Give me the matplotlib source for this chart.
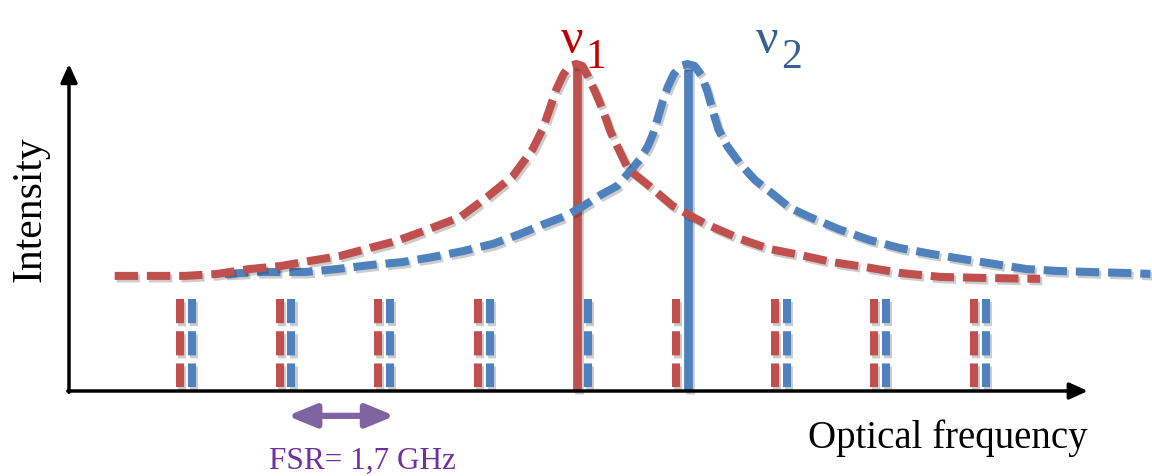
import matplotlib
matplotlib.use("Agg")
import matplotlib.pyplot as plt
import matplotlib.patheffects as pe

# ---------------- data (x in FSR units, y normalised intensity) ----------------
red_x = [0.46, 0.82, 1.17, 1.49, 1.82, 2.13, 2.43, 2.73, 3.06, 3.30, 3.57, 3.94,
         4.21, 4.47, 4.67, 4.77, 4.84, 4.91, 4.98, 5.04, 5.11, 5.17, 5.23, 5.30,
         5.38, 5.45, 5.52, 5.63, 5.82, 6.08, 6.41, 6.76, 7.06, 7.36, 7.69, 8.02,
         8.37, 8.77, 9.17, 9.78]
red_y = [0.352, 0.352, 0.352, 0.358, 0.373, 0.382, 0.398, 0.413, 0.440, 0.459,
         0.489, 0.532, 0.593, 0.657, 0.740, 0.801, 0.862, 0.924, 0.969, 0.994,
         1.000, 0.994, 0.960, 0.914, 0.856, 0.795, 0.749, 0.679, 0.633, 0.566,
         0.511, 0.465, 0.434, 0.416, 0.394, 0.379, 0.361, 0.349, 0.346, 0.343]

blue_x = [1.57, 1.95, 2.38, 2.70, 3.03, 3.35, 3.67, 3.97, 4.27, 4.54, 4.79, 5.00,
          5.18, 5.35, 5.52, 5.67, 5.76, 5.83, 5.88, 5.93, 5.98, 6.03, 6.09, 6.16,
          6.23, 6.30, 6.37, 6.43, 6.48, 6.54, 6.63, 6.76, 6.91, 7.09, 7.26, 7.46,
          7.75, 8.06, 8.37, 8.69, 8.99, 9.33, 9.64, 9.96, 10.28, 10.63, 10.89]
blue_y = [0.358, 0.364, 0.364, 0.373, 0.385, 0.394, 0.410, 0.428, 0.450, 0.480,
          0.511, 0.535, 0.566, 0.599, 0.627, 0.679, 0.713, 0.749, 0.785, 0.835,
          0.887, 0.930, 0.969, 0.994, 1.000, 0.994, 0.965, 0.915, 0.860, 0.800,
          0.748, 0.694, 0.645, 0.602, 0.560, 0.532, 0.495, 0.462, 0.437, 0.419,
          0.404, 0.388, 0.373, 0.367, 0.364, 0.361, 0.358]

red_modes = [1.12, 2.12, 3.11, 4.12, 5.12, 6.11, 7.11, 8.11, 9.11]
blue_modes = [1.24, 2.24, 3.23, 4.24, 5.23, 6.23, 7.23, 8.23, 9.23]
mode_top, mode_bottom = 0.281, 0.012
red_lasing = 5.12
blue_lasing = 6.23
fsr_arrow = (2.20, 3.28)
fsr_label = "FSR= 1,7 GHz"
x_label = "Optical frequency"
y_label = "Intensity"

# ---------------- style ----------------
RED = "#C0504D"
BLUE = "#4F81BD"
PURPLE = "#8064A2"
FONT = "Liberation Serif"
shadow = [pe.SimpleLineShadow(offset=(1.5, -1.8), shadow_color="black", alpha=0.2),
          pe.Normal()]

fig = plt.figure(figsize=(11.52, 4.77), dpi=100)
ax = fig.add_axes([0, 0, 1, 1])
ax.set_xlim(-69 / 99.3, (1152 - 69) / 99.3)
ax.set_ylim(-85 / 327, 392 / 327)
ax.axis("off")

lw = 5.8
# mode comb
for xr, xb in zip(red_modes, blue_modes):
    if xr != red_lasing:
        ax.plot([xr, xr], [mode_top, mode_bottom], color=RED, lw=lw,
                dashes=(3.0, 1.0), solid_capstyle="butt", dash_capstyle="butt",
                path_effects=shadow, zorder=3)
    if xb != blue_lasing:
        ax.plot([xb, xb], [mode_top, mode_bottom], color=BLUE, lw=lw,
                dashes=(3.0, 1.0), solid_capstyle="butt", dash_capstyle="butt",
                path_effects=shadow, zorder=3)

# lasing lines
ax.plot([red_lasing, red_lasing], [0.0, 0.99], color=RED, lw=6.3,
        solid_capstyle="butt", path_effects=shadow, zorder=4)
ax.plot([blue_lasing, blue_lasing], [0.0, 0.985], color=BLUE, lw=6.3,
        solid_capstyle="butt", path_effects=shadow, zorder=4)

# resonance profiles
ax.plot(blue_x, blue_y, color=BLUE, lw=lw, dashes=(2.9, 1.1),
        dash_capstyle="butt", solid_joinstyle="round", path_effects=shadow, zorder=5)
ax.plot(red_x, red_y, color=RED, lw=lw, dashes=(2.9, 1.1),
        dash_capstyle="butt", solid_joinstyle="round", path_effects=shadow, zorder=5)

# axes arrows
arrow_kw = dict(arrowstyle="-|>,head_length=1.1,head_width=0.5", color="black",
                lw=2.5, mutation_scale=10, shrinkA=0, shrinkB=0)
ax.annotate("", xy=(0, 1.0), xytext=(0, -0.004), arrowprops=arrow_kw, zorder=6)
ax.annotate("", xy=(10.26, 0), xytext=(-0.012, 0), arrowprops=arrow_kw, zorder=6)

# FSR arrow
ax.annotate("", xy=(fsr_arrow[1], -0.076), xytext=(fsr_arrow[0], -0.076),
            arrowprops=dict(arrowstyle="<|-|>,head_length=1.7,head_width=0.7",
                            color=PURPLE, lw=4.5, mutation_scale=10,
                            shrinkA=0, shrinkB=0), zorder=6)

# texts
ax.text(2.956, -0.234, fsr_label, color="#7030A0", fontsize=22.5, family=FONT,
        ha="center", va="baseline")
ax.text(8.852, -0.171, x_label, color="black", fontsize=28, family=FONT,
        ha="center", va="baseline")
ax.text(-0.393, 0.56, y_label, color="black", fontsize=30, family=FONT,
        ha="center", va="center", rotation=90)

ax.text(4.95, 1.037, "ν", color="#C00000", fontsize=36, family=FONT,
        ha="left", va="baseline")
ax.text(5.20, 0.991, "1", color="#C00000", fontsize=30, family=FONT,
        ha="left", va="baseline")
ax.text(6.92, 1.037, "ν", color="#376092", fontsize=36, family=FONT,
        ha="left", va="baseline")
ax.text(7.17, 0.991, "2", color="#376092", fontsize=30, family=FONT,
        ha="left", va="baseline")

fig.savefig("out.png", dpi=100)
